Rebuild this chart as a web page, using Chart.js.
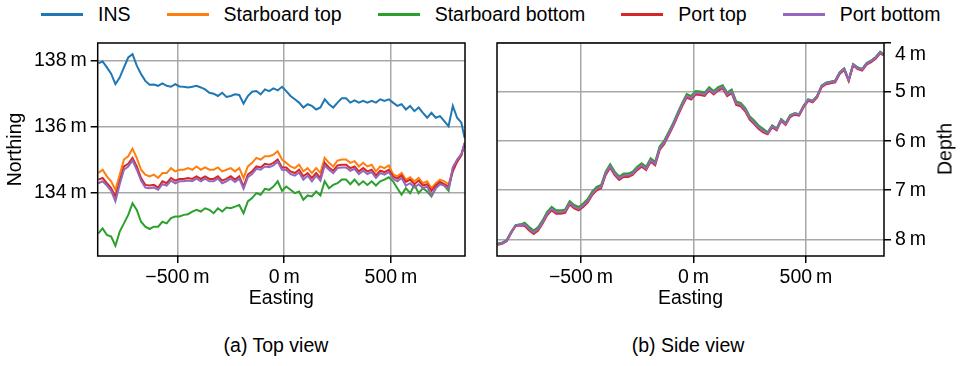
<!DOCTYPE html>
<html>
<head>
<meta charset="utf-8">
<script src="https://cdn.jsdelivr.net/npm/chart.js@4.4.1/dist/chart.umd.min.js"></script>
<style>
  html, body { margin: 0; padding: 0; background: #fff; }
  body { width: 961px; height: 366px; position: relative; overflow: hidden;
         font-family: 'Liberation Sans', Arial, sans-serif; color: #000; }
  #legend { position: absolute; left: 41px; top: 3px; display: flex; align-items: center;
            font-size: 19.5px; white-space: nowrap; }
  .item { display: flex; align-items: center; margin-right: 36px; }
  .swatch { width: 42px; height: 0; border-top: 3px solid; margin-right: 15px; }
  #topCanvas { position: absolute; left: 0; top: 0; }
  #sideCanvas { position: absolute; left: 480px; top: 0; }
  .caption { position: absolute; top: 334px; font-size: 19.5px; transform: translateX(-50%); white-space: nowrap; }
  #depthTitle { position: absolute; left: 945px; top: 149px; font-size: 19.5px;
                transform: translate(-50%, -50%) rotate(-90deg); white-space: nowrap; }
</style>
</head>
<body>
<div id="legend"></div>
<canvas id="topCanvas" width="480" height="314"></canvas>
<canvas id="sideCanvas" width="481" height="314"></canvas>
<div id="depthTitle">Depth</div>
<div class="caption" style="left:276px">(a) Top view</div>
<div class="caption" style="left:688px">(b) Side view</div>
<script>
// --- data ---
const seriesNames = ['INS', 'Starboard top', 'Starboard bottom', 'Port top', 'Port bottom'];
const seriesColors = ['#1f77b4', '#ff7f0e', '#2ca02c', '#d62728', '#9467bd'];

const xTicks = [-500, 0, 500];
const northingTicks = [134, 136, 138];
const depthTicks = [4, 5, 6, 7, 8];

const easting = [
  -870, -850, -830, -810, -790, -770, -750, -730, -710, -690,
  -670, -650, -630, -610, -590, -570, -550, -530, -510, -490,
  -470, -450, -430, -410, -390, -370, -350, -330, -310, -290,
  -270, -250, -230, -210, -190, -170, -150, -130, -110, -90,
  -70, -50, -30, -10, 10, 30, 50, 70, 90, 110,
  130, 150, 170, 190, 210, 230, 250, 270, 290, 310,
  330, 350, 370, 390, 410, 430, 450, 470, 490, 510,
  530, 550, 570, 590, 610, 630, 650, 670, 690, 710,
  730, 750, 770, 790, 810, 830, 845
];

// top view (northing, m)
const insNorthing = [
  137.92, 137.98, 137.80, 137.61, 137.29, 137.49, 137.80, 138.10, 138.20, 137.85,
  137.60, 137.39, 137.27, 137.28, 137.24, 137.31, 137.24, 137.21, 137.29, 137.22,
  137.21, 137.19, 137.21, 137.24, 137.19, 137.13, 137.03, 137.00, 136.93, 137.03,
  136.90, 136.93, 136.98, 136.96, 136.70, 136.93, 137.06, 137.08, 136.98, 137.13,
  137.08, 137.16, 137.10, 137.21, 137.08, 136.93, 136.83, 136.73, 136.58, 136.68,
  136.63, 136.52, 136.58, 136.83, 136.68, 136.58, 136.73, 136.86, 136.86, 136.73,
  136.80, 136.73, 136.78, 136.73, 136.78, 136.73, 136.83, 136.78, 136.83, 136.73,
  136.63, 136.68, 136.52, 136.63, 136.47, 136.58, 136.42, 136.27, 136.42, 136.27,
  136.32, 136.17, 136.01, 136.63, 136.27, 136.12, 135.66
];
const starboardTopNorthing = [
  134.59, 134.69, 134.49, 134.34, 134.08, 134.54, 135.00, 135.10, 135.33, 135.05,
  134.69, 134.54, 134.49, 134.54, 134.44, 134.59, 134.59, 134.74, 134.64, 134.69,
  134.69, 134.74, 134.69, 134.79, 134.69, 134.76, 134.69, 134.69, 134.76, 134.64,
  134.69, 134.74, 134.64, 134.74, 134.44, 134.79, 134.90, 135.05, 135.00, 135.10,
  135.10, 135.15, 135.25, 135.00, 134.90, 134.79, 134.74, 134.84, 134.64, 134.74,
  134.59, 134.74, 134.59, 135.05, 134.90, 134.79, 134.97, 135.00, 135.00, 134.90,
  134.95, 134.79, 134.90, 134.79, 134.84, 134.64, 134.79, 134.74, 134.82, 134.56,
  134.49, 134.59, 134.39, 134.46, 134.34, 134.44, 134.28, 134.34, 134.13, 134.28,
  134.39, 134.34, 134.25, 134.69, 134.95, 135.15, 135.48
];
const starboardBottomNorthing = [
  132.76, 132.91, 132.71, 132.66, 132.38, 132.81, 133.06, 133.32, 133.67, 133.47,
  133.11, 132.96, 132.89, 132.96, 132.96, 133.11, 133.06, 133.22, 133.27, 133.27,
  133.32, 133.34, 133.42, 133.47, 133.42, 133.52, 133.47, 133.37, 133.52, 133.42,
  133.54, 133.52, 133.57, 133.62, 133.37, 133.73, 133.83, 133.98, 133.93, 134.11,
  134.08, 134.18, 134.34, 134.05, 134.18, 134.08, 133.98, 134.03, 133.78, 133.91,
  133.88, 134.03, 133.91, 134.34, 134.13, 134.23, 134.28, 134.39, 134.39, 134.25,
  134.39, 134.23, 134.34, 134.23, 134.34, 134.21, 134.34, 134.39, 134.46, 134.34,
  134.13, 133.93, 134.13, 133.98, 134.23, 133.98, 134.13, 134.03, 133.88, 134.13,
  134.28, 134.21, 134.05, 134.74, 134.95, 135.15, 135.48
];
const portTopNorthing = [
  134.39, 134.44, 134.28, 134.13, 133.88, 134.34, 134.79, 134.87, 135.05, 134.79,
  134.44, 134.23, 134.21, 134.23, 134.15, 134.34, 134.28, 134.44, 134.36, 134.41,
  134.41, 134.44, 134.41, 134.49, 134.41, 134.49, 134.41, 134.41, 134.49, 134.36,
  134.41, 134.49, 134.39, 134.49, 134.18, 134.54, 134.64, 134.79, 134.76, 134.87,
  134.84, 134.90, 135.00, 134.76, 134.76, 134.64, 134.59, 134.69, 134.49, 134.59,
  134.44, 134.59, 134.44, 134.90, 134.76, 134.66, 134.82, 134.84, 134.84, 134.74,
  134.79, 134.64, 134.74, 134.64, 134.69, 134.52, 134.66, 134.62, 134.69, 134.49,
  134.42, 134.52, 134.32, 134.39, 134.25, 134.36, 134.21, 134.25, 134.05, 134.21,
  134.32, 134.25, 134.18, 134.64, 134.93, 135.13, 135.48
];
const portBottomNorthing = [
  134.28, 134.34, 134.21, 134.05, 133.73, 134.25, 134.69, 134.79, 134.97, 134.69,
  134.36, 134.15, 134.13, 134.15, 134.08, 134.25, 134.21, 134.36, 134.28, 134.34,
  134.34, 134.36, 134.34, 134.42, 134.34, 134.42, 134.34, 134.34, 134.42, 134.28,
  134.34, 134.42, 134.32, 134.42, 134.11, 134.46, 134.56, 134.72, 134.69, 134.79,
  134.77, 134.82, 134.93, 134.69, 134.68, 134.56, 134.51, 134.61, 134.39, 134.51,
  134.34, 134.51, 134.36, 134.82, 134.69, 134.59, 134.74, 134.76, 134.76, 134.66,
  134.72, 134.56, 134.66, 134.56, 134.62, 134.44, 134.59, 134.54, 134.62, 134.42,
  134.34, 134.44, 134.21, 134.28, 134.15, 134.25, 134.13, 134.18, 133.91, 134.13,
  134.25, 134.21, 134.11, 134.76, 135.00, 135.17, 135.51
];

// side view (depth, m)
const insDepth = [
  8.09, 8.07, 8.02, 7.85, 7.71, 7.70, 7.69, 7.78, 7.85, 7.78,
  7.64, 7.47, 7.37, 7.44, 7.44, 7.42, 7.25, 7.33, 7.37, 7.30,
  7.21, 7.06, 6.96, 6.92, 6.65, 6.50, 6.65, 6.75, 6.69, 6.69,
  6.65, 6.55, 6.48, 6.55, 6.38, 6.45, 6.14, 6.02, 5.84, 5.66,
  5.45, 5.25, 5.07, 5.11, 5.01, 5.02, 5.04, 4.93, 5.01, 4.93,
  4.89, 5.04, 4.98, 5.22, 5.25, 5.35, 5.52, 5.61, 5.71, 5.78,
  5.83, 5.69, 5.75, 5.56, 5.64, 5.48, 5.43, 5.45, 5.28, 5.15,
  5.18, 5.08, 4.87, 4.81, 4.79, 4.77, 4.60, 4.52, 4.75, 4.43,
  4.50, 4.53, 4.41, 4.36, 4.29, 4.18, 4.22
];
const starboardTopDepth = [
  8.10, 8.08, 8.03, 7.86, 7.72, 7.71, 7.68, 7.77, 7.84, 7.77,
  7.63, 7.46, 7.36, 7.43, 7.43, 7.41, 7.24, 7.32, 7.36, 7.29,
  7.20, 7.05, 6.95, 6.91, 6.64, 6.49, 6.64, 6.74, 6.68, 6.68,
  6.64, 6.54, 6.47, 6.54, 6.37, 6.44, 6.13, 6.01, 5.83, 5.65,
  5.44, 5.24, 5.06, 5.10, 5.00, 5.01, 5.03, 4.92, 5.00, 4.92,
  4.88, 5.03, 4.97, 5.21, 5.24, 5.34, 5.51, 5.60, 5.70, 5.77,
  5.83, 5.69, 5.75, 5.56, 5.64, 5.48, 5.44, 5.46, 5.29, 5.16,
  5.19, 5.09, 4.88, 4.82, 4.80, 4.78, 4.61, 4.53, 4.76, 4.44,
  4.51, 4.54, 4.42, 4.37, 4.30, 4.19, 4.23
];
const starboardBottomDepth = [
  8.09, 8.07, 8.02, 7.85, 7.71, 7.70, 7.66, 7.75, 7.82, 7.75,
  7.61, 7.44, 7.34, 7.41, 7.41, 7.39, 7.22, 7.30, 7.34, 7.27,
  7.18, 7.03, 6.93, 6.89, 6.62, 6.47, 6.62, 6.72, 6.66, 6.66,
  6.62, 6.52, 6.45, 6.52, 6.35, 6.42, 6.11, 5.99, 5.81, 5.63,
  5.42, 5.22, 5.04, 5.08, 4.98, 4.99, 5.01, 4.90, 4.98, 4.90,
  4.86, 5.01, 4.95, 5.19, 5.22, 5.32, 5.49, 5.58, 5.68, 5.75,
  5.82, 5.68, 5.74, 5.55, 5.63, 5.47, 5.43, 5.45, 5.28, 5.15,
  5.18, 5.08, 4.87, 4.81, 4.79, 4.77, 4.60, 4.52, 4.75, 4.43,
  4.50, 4.53, 4.41, 4.36, 4.29, 4.18, 4.22
];
const portTopDepth = [
  8.11, 8.09, 8.04, 7.87, 7.73, 7.72, 7.73, 7.82, 7.89, 7.82,
  7.68, 7.51, 7.41, 7.48, 7.48, 7.46, 7.29, 7.37, 7.41, 7.34,
  7.25, 7.10, 7.00, 6.96, 6.69, 6.54, 6.69, 6.79, 6.73, 6.73,
  6.69, 6.59, 6.52, 6.59, 6.42, 6.49, 6.18, 6.06, 5.88, 5.70,
  5.49, 5.29, 5.11, 5.15, 5.05, 5.06, 5.08, 4.97, 5.05, 4.97,
  4.93, 5.08, 5.02, 5.26, 5.29, 5.39, 5.56, 5.65, 5.75, 5.82,
  5.86, 5.72, 5.78, 5.59, 5.67, 5.51, 5.46, 5.48, 5.31, 5.18,
  5.21, 5.11, 4.90, 4.84, 4.82, 4.80, 4.63, 4.55, 4.78, 4.46,
  4.53, 4.56, 4.44, 4.39, 4.32, 4.21, 4.25
];
const portBottomDepth = [
  8.10, 8.08, 8.03, 7.86, 7.72, 7.71, 7.70, 7.79, 7.86, 7.79,
  7.65, 7.48, 7.38, 7.45, 7.45, 7.43, 7.26, 7.34, 7.38, 7.31,
  7.22, 7.07, 6.97, 6.93, 6.66, 6.51, 6.66, 6.76, 6.70, 6.70,
  6.66, 6.56, 6.49, 6.56, 6.39, 6.46, 6.15, 6.03, 5.85, 5.67,
  5.46, 5.26, 5.08, 5.12, 5.02, 5.03, 5.05, 4.94, 5.02, 4.94,
  4.90, 5.05, 4.99, 5.23, 5.26, 5.36, 5.53, 5.62, 5.72, 5.79,
  5.84, 5.70, 5.76, 5.57, 5.65, 5.49, 5.44, 5.46, 5.29, 5.16,
  5.19, 5.09, 4.88, 4.82, 4.80, 4.78, 4.61, 4.53, 4.76, 4.44,
  4.51, 4.54, 4.42, 4.37, 4.30, 4.19, 4.23
];

const northingSeries = [insNorthing, starboardTopNorthing, starboardBottomNorthing, portTopNorthing, portBottomNorthing];
const depthSeries = [insDepth, starboardTopDepth, starboardBottomDepth, portTopDepth, portBottomDepth];

// --- styling ---
const FONT = { family: "'Liberation Sans', Arial, sans-serif", size: 19.5 };
const GRID = { color: '#a8a8a8', lineWidth: 1.5, tickColor: '#000', tickWidth: 1.5, tickLength: 7 };

function fmtMeters(v) {
  const s = v < 0 ? '\u2212' + Math.abs(v) : String(v);
  return s + '\u2009m';
}

// black box around the plot area (matplotlib spines)
const framePlugin = {
  id: 'frame',
  afterDatasetsDraw(chart) {
    const { ctx, chartArea: a } = chart;
    ctx.save();
    ctx.strokeStyle = '#000';
    ctx.lineWidth = 1.5;
    ctx.strokeRect(a.left, a.top, a.right - a.left, a.bottom - a.top);
    ctx.restore();
  }
};

function buildDatasets(values) {
  return values.map((arr, i) => ({
    label: seriesNames[i],
    data: easting.map((x, k) => ({ x, y: arr[k] })),
    borderColor: seriesColors[i],
    borderWidth: 2,
    pointRadius: 0,
    tension: 0,
    fill: false,
    order: values.length - i   // last series on top
  }));
}

function xScale() {
  return {
    type: 'linear',
    min: -873, max: 847,
    afterBuildTicks: sc => { sc.ticks = xTicks.map(value => ({ value })); },
    afterFit: sc => { sc.height = 58; },
    grid: GRID,
    border: { display: false },
    ticks: { font: FONT, color: '#000', padding: 3, maxRotation: 0, autoSkip: false, callback: fmtMeters },
    title: { display: true, text: 'Easting', font: FONT, color: '#000', padding: { top: 0, bottom: 4 } }
  };
}

const baseOptions = {
  responsive: false,
  animation: false,
  devicePixelRatio: 1,
  plugins: { legend: { display: false }, tooltip: { enabled: false } }
};

// (a) top view
new Chart(document.getElementById('topCanvas').getContext('2d'), {
  type: 'line',
  data: { datasets: buildDatasets(northingSeries) },
  options: {
    ...baseOptions,
    layout: { padding: { top: 43, right: 15, bottom: 0, left: 0 } },
    scales: {
      x: xScale(),
      y: {
        type: 'linear',
        min: 132.07, max: 138.54,
        afterBuildTicks: sc => { sc.ticks = northingTicks.map(value => ({ value })); },
        afterFit: sc => { sc.width = 97.7; },
        grid: GRID,
        border: { display: false },
        ticks: { font: FONT, color: '#000', padding: 4, callback: fmtMeters },
        title: { display: true, text: 'Northing', font: FONT, color: '#000', padding: { top: 4, bottom: 0 } }
      }
    }
  },
  plugins: [framePlugin]
});

// (b) side view
new Chart(document.getElementById('sideCanvas').getContext('2d'), {
  type: 'line',
  data: { datasets: buildDatasets(depthSeries) },
  options: {
    ...baseOptions,
    layout: { padding: { top: 43, right: 0, bottom: 0, left: 17 } },
    scales: {
      x: xScale(),
      y: {
        type: 'linear',
        position: 'right',
        reverse: true,
        min: 4, max: 8.34,
        afterBuildTicks: sc => { sc.ticks = depthTicks.map(value => ({ value })); },
        afterFit: sc => { sc.width = 77; },
        grid: GRID,
        border: { display: false },
        ticks: {
          font: FONT, color: '#000', padding: 4,
          // the top label sits just below its tick in the original
          callback: (v, i) => i === 0 ? ['', fmtMeters(v)] : fmtMeters(v)
        },
        title: { display: false }
      }
    }
  },
  plugins: [framePlugin]
});

// shared legend above both panels
const legend = document.getElementById('legend');
seriesNames.forEach((name, i) => {
  const item = document.createElement('div');
  item.className = 'item';
  item.innerHTML = `<span class="swatch" style="border-color:${seriesColors[i]}"></span><span>${name}</span>`;
  legend.appendChild(item);
});
</script>
</body>
</html>
